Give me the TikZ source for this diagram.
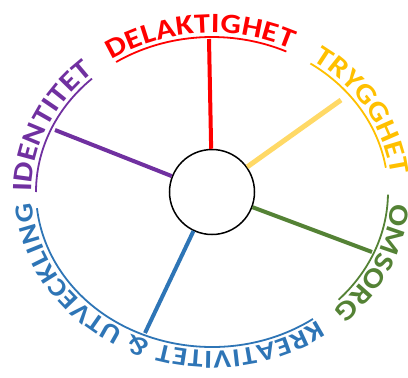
\documentclass[tikz,border=0pt]{standalone}
\usepackage{fontspec}
\setmainfont{Carlito}
\newfontfamily\wheelfamily[FakeStretch=1.15]{Carlito}
\usetikzlibrary{decorations.text, calc}
\definecolor{cred}{HTML}{FF0000}
\definecolor{cgold}{HTML}{FFC000}
\definecolor{cyellow}{HTML}{FFD966}
\definecolor{cgreen}{HTML}{548235}
\definecolor{cblue}{HTML}{2E75B6}
\definecolor{cpurple}{HTML}{7030A0}
\newcommand{\wheelfont}{\wheelfamily\bfseries\fontsize{28}{33}\selectfont}
\newcommand{\wheelsmall}{\wheelfamily\bfseries\fontsize{26}{31}\selectfont}
\tikzset{
  spoke/.style={draw=#1, line width=4pt},
  rim/.style={draw=#1, line width=1.8pt},
  rimtext/.style={decorate, decoration={text along path, text align=fit to path}},
  hubnode/.style={circle, draw=black, line width=1.5pt, fill=white, minimum size=85pt, inner sep=0pt},
}

\begin{document}
\begin{tikzpicture}[x=1pt, y=1pt]
  \useasboundingbox (0,0) rectangle (408,-378);
  % ---- hub and spokes ----
  \coordinate (c) at (212,-192);
  \node[hubnode] (hub) at (c) {};
  \coordinate (delEnd) at (209,-39);
  \coordinate (tryEnd) at (341,-100);
  \coordinate (omsEnd) at (372,-252);
  \coordinate (kreEnd) at (145,-333);
  \coordinate (ideEnd) at (55,-130);
  \draw[spoke=cred] (hub) -- (delEnd);
  \draw[spoke=cyellow, line width=5pt] (hub) -- (tryEnd);
  \draw[spoke=cgreen] (hub) -- (omsEnd);
  \draw[spoke=cblue] (hub) -- (kreEnd);
  \draw[spoke=cpurple] (hub) -- (ideEnd);
  % ---- rim arcs ----
  \draw[rim=cred] ($(c)+(123:176 and 155)$) arc[start angle=123, end angle=65, x radius=176, y radius=155];
  \draw[rim=cgold] ($(c)+(56:176 and 155)$) arc[start angle=56, end angle=9, x radius=176, y radius=155];
  \draw[rim=cgreen] ($(c)+(-1:176 and 155)$) arc[start angle=-1, end angle=-44, x radius=176, y radius=155];
  \draw[rim=cblue] ($(c)+(-55:176 and 155)$) arc[start angle=-55, end angle=-174, x radius=176, y radius=155];
  \draw[rim=cpurple] ($(c)+(180:176 and 155)$) arc[start angle=180, end angle=133, x radius=176, y radius=155];
  % ---- labels along the rim ----
  \path[rimtext, decoration={text={|\wheelfont\color{cred}|DELAKTIGHET}}]
    ($(c)+(124:180 and 159)$) arc[start angle=124, end angle=64, x radius=180, y radius=159];
  \path[rimtext, decoration={text={|\wheelfont\color{cgold}|TRYGGHET}}]
    ($(c)+(56:180 and 159)$) arc[start angle=56, end angle=8, x radius=180, y radius=159];
  \path[rimtext, decoration={text={|\wheelfont\color{cgreen}|OMSORG}}]
    ($(c)+(-4:180 and 159)$) arc[start angle=-4, end angle=-47, x radius=180, y radius=159];
  \path[rimtext, decoration={text={|\wheelsmall\color{cblue}|KREATIVITET {\&} UTVECKLING}}]
    ($(c)+(-54:180 and 159)$) arc[start angle=-54, end angle=-176, x radius=180, y radius=159];
  \path[rimtext, decoration={text={|\wheelfont\color{cpurple}|IDENTITET}}]
    ($(c)+(180:180 and 159)$) arc[start angle=180, end angle=131, x radius=180, y radius=159];
\end{tikzpicture}
\end{document}
